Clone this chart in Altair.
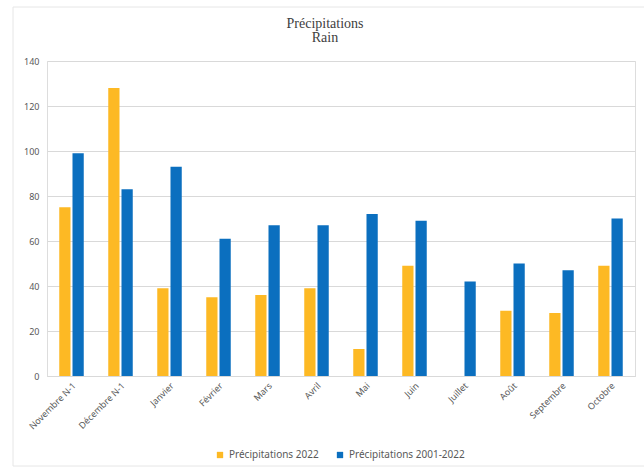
import altair as alt
import pandas as pd

months = ["Novembre N-1", "Décembre N-1", "Janvier", "Février", "Mars", "Avril",
          "Mai", "Juin", "Juillet", "Août", "Septembre", "Octobre"]
rain_2022 = [75, 128, 39, 35, 36, 39, 12, 49, None, 29, 28, 49]
rain_2001_2022 = [99, 83, 93, 61, 67, 67, 72, 69, 42, 50, 47, 70]
series = ["Précipitations 2022", "Précipitations 2001-2022"]
colors = ["#FDB924", "#0B6FBF"]
title_lines = ["Précipitations", "Rain"]

rows = []
for m, a, b in zip(months, rain_2022, rain_2001_2022):
    if a is not None:
        rows.append({"month": m, "series": series[0], "value": a})
    rows.append({"month": m, "series": series[1], "value": b})
df = pd.DataFrame(rows)

txt = "#595959"
font = "Noto Sans"

bars = alt.Chart(df).mark_bar().encode(
    x=alt.X("month:N", sort=months, title=None,
            scale=alt.Scale(paddingInner=0.5, paddingOuter=0.25),
            axis=alt.Axis(labelAngle=-45, labelAlign="right", labelBaseline="top",
                          labelColor=txt, labelFont=font, labelFontSize=9,
                          domain=True, domainColor="#D9D9D9", ticks=False,
                          labelPadding=5)),
    xOffset=alt.XOffset("series:N", sort=series,
                        scale=alt.Scale(paddingInner=0.15)),
    y=alt.Y("value:Q", title=None,
            scale=alt.Scale(domain=[0, 140]),
            axis=alt.Axis(values=list(range(0, 141, 20)), labelColor=txt,
                          labelFont=font, labelFontSize=9, domain=False,
                          ticks=False, gridColor="#D9D9D9", labelPadding=8)),
    color=alt.Color("series:N", sort=series,
                    scale=alt.Scale(domain=series, range=colors),
                    legend=alt.Legend(title=None, orient="none", direction="horizontal",
                                      legendX=168, legendY=389,
                                      symbolType="square", symbolSize=40,
                                      labelColor=txt, labelFont=font, labelFontSize=10,
                                      columnPadding=16, symbolStrokeWidth=0)),
)

frame = alt.Chart(pd.DataFrame({"a": [0]})).mark_rect(
    fill=None, stroke="#E6E6E6", strokeWidth=1, clip=False
).encode(x=alt.value(-34), x2=alt.value(620), y=alt.value(-54), y2=alt.value(405))

title1 = alt.Chart(pd.DataFrame({"t": [title_lines[0]]})).mark_text(
    font="Liberation Serif", fontSize=14, color="#404040", align="center",
    baseline="alphabetic"
).encode(text="t:N", x=alt.value(278), y=alt.value(-33))

title2 = alt.Chart(pd.DataFrame({"t": [title_lines[1]]})).mark_text(
    font="Liberation Serif", fontSize=14, color="#404040", align="center",
    baseline="alphabetic"
).encode(text="t:N", x=alt.value(278), y=alt.value(-19))

chart = alt.layer(frame, bars, title1, title2).properties(
    width=588, height=315,
    autosize=alt.AutoSizeParams(type="none"),
    padding={"left": 47, "top": 61, "right": 9, "bottom": 96},
).configure_view(stroke=None).configure(background="white")

chart.save("out.html", embed_options={"renderer": "svg", "actions": False})
